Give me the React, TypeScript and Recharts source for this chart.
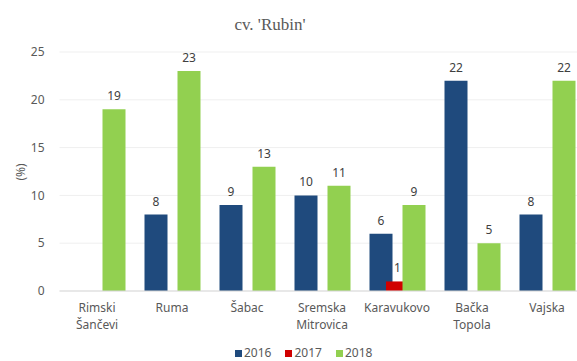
import React from 'react';
import { BarChart, Bar, XAxis, YAxis, CartesianGrid, LabelList } from 'recharts';

const locations = ['Rimski Šančevi', 'Ruma', 'Šabac', 'Sremska Mitrovica', 'Karavukovo', 'Bačka Topola', 'Vajska'];
const values2016: (number | null)[] = [null, 8, 9, 10, 6, 22, 8];
const values2017: (number | null)[] = [null, null, null, null, 1, null, null];
const values2018: (number | null)[] = [19, 23, 13, 11, 9, 5, 22];
const yTicks = [0, 5, 10, 15, 20, 25];

const seriesInfo = [
  { key: 'y2016', name: '2016', color: '#1f4a7d' },
  { key: 'y2017', name: '2017', color: '#d00000' },
  { key: 'y2018', name: '2018', color: '#92d050' },
];

const data = locations.map((loc, i) => ({
  loc,
  y2016: values2016[i],
  y2017: values2017[i],
  y2018: values2018[i],
}));

const FONT = '"Noto Sans", "Liberation Sans", sans-serif';

const CategoryTick = (props: any) => {
  const { x, y, payload } = props;
  const words = String(payload.value).split(' ');
  return (
    <text x={x} y={y} textAnchor="middle" fill="#595959" fontSize={12} fontFamily={FONT}>
      {words.map((w, i) => (
        <tspan key={i} x={x} dy={i === 0 ? 13 : 17}>
          {w}
        </tspan>
      ))}
    </text>
  );
};

// Value label drawn just above each bar's top edge
const ValueLabel = (props: any) => {
  const { x, y, width, value } = props;
  if (value == null || value === '') return null;
  return (
    <text
      x={Number(x) + Number(width) / 2}
      y={Number(y) - 9}
      textAnchor="middle"
      fill="#404040"
      stroke="none"
      fontSize={12}
      fontFamily={FONT}
    >
      {value}
    </text>
  );
};

export default function App() {
  return (
    <div
      style={{
        position: 'absolute',
        left: 0,
        top: 0,
        width: 577,
        height: 361,
        overflow: 'hidden',
        background: '#ffffff',
      }}
    >
      <div
        style={{
          position: 'absolute',
          left: 0,
          top: 15,
          width: 540,
          textAlign: 'center',
          fontFamily: '"Liberation Serif", serif',
          fontSize: 17,
          lineHeight: '20px',
          color: '#595959',
        }}
      >
        cv. 'Rubin'
      </div>
      <div
        style={{
          position: 'absolute',
          left: 20,
          top: 172,
          transform: 'translate(-50%, -50%) rotate(-90deg)',
          fontFamily: FONT,
          fontSize: 12,
          color: '#595959',
          whiteSpace: 'nowrap',
        }}
      >
        (%)
      </div>
      <BarChart
        width={600}
        height={361}
        data={data}
        margin={{ top: 52, right: 15.5, bottom: 0, left: 0 }}
        barSize={23}
        barGap={-6.5}
      >
        <CartesianGrid vertical={false} stroke="#efefef" />
        <XAxis
          dataKey="loc"
          height={70}
          axisLine={{ stroke: '#d9d9d9' }}
          tickLine={false}
          tick={<CategoryTick />}
          interval={0}
        />
        <YAxis
          width={59.5}
          domain={[0, 25]}
          ticks={yTicks}
          axisLine={false}
          tickLine={false}
          tickMargin={9}
          tick={{ fill: '#595959', fontSize: 12, fontFamily: FONT }}
        />
        {seriesInfo.map((s) => (
          <Bar key={s.key} dataKey={s.key} name={s.name} fill={s.color} isAnimationActive={false}>
            <LabelList dataKey={s.key} content={<ValueLabel />} />
          </Bar>
        ))}
      </BarChart>
      <div
        style={{
          position: 'absolute',
          left: 235,
          top: 345,
          display: 'flex',
          alignItems: 'center',
          fontFamily: FONT,
          fontSize: 12,
          lineHeight: '16px',
          color: '#595959',
        }}
      >
        {seriesInfo.map((s) => (
          <div key={s.key} style={{ display: 'flex', alignItems: 'center', marginRight: 14 }}>
            <span style={{ display: 'inline-block', width: 7, height: 7, background: s.color, marginRight: 2 }} />
            <span>{s.name}</span>
          </div>
        ))}
      </div>
    </div>
  );
}
